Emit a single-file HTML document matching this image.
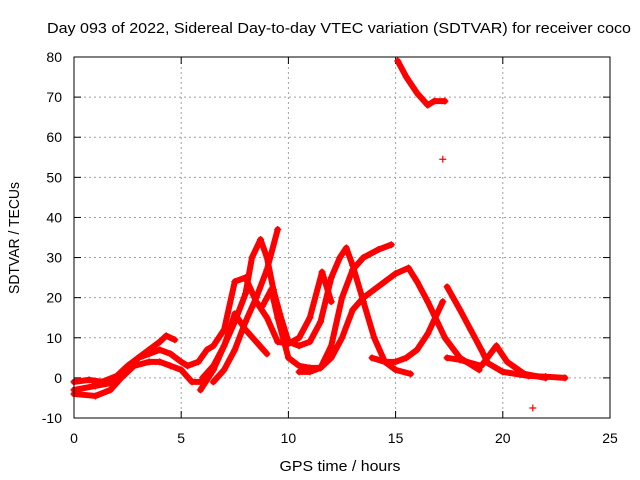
<!DOCTYPE html>
<html><head><meta charset="utf-8"><style>
body{margin:0;background:#fff}
svg{display:block;font-family:"Liberation Sans",sans-serif}
</style></head><body>
<svg id="chart" width="640" height="480" xmlns="http://www.w3.org/2000/svg">
<rect width="640" height="480" fill="#fff"/>
<text x="339" y="33" font-size="15" text-anchor="middle" textLength="584" lengthAdjust="spacingAndGlyphs">Day 093 of 2022, Sidereal Day-to-day VTEC variation (SDTVAR) for receiver coco</text>
<text x="340" y="471" font-size="15" text-anchor="middle" textLength="121" lengthAdjust="spacingAndGlyphs">GPS time / hours</text>
<text x="19" y="238" font-size="15" text-anchor="middle" textLength="112" lengthAdjust="spacingAndGlyphs" transform="rotate(-90 19 238)">SDTVAR / TECUs</text>
<g id="grid"></g><g id="ticks"></g><g id="marks"></g>
<rect x="74" y="57" width="536" height="361" fill="none" stroke="#000" stroke-width="1"/>
</svg>
<script>
const xTicks=[0,5,10,15,20,25];
const yTicks=[-10,0,10,20,30,40,50,60,70,80];
const trackA=[[0,-4],[1,-4.5],[1.7,-3],[2.2,0],[2.8,3],[3.5,4],[4,4],[4.5,3],[5,2],[5.5,-1],[6,-1],[6.2,1]];
const trackB=[[0,-1],[0.7,-0.5],[1.3,-1],[2,0.5],[2.5,3],[3,5],[3.5,6],[4,7],[4.5,6],[5,4],[5.3,3],[5.8,4],[6.2,7],[6.5,8],[7,12],[7.5,24],[8,25],[8.5,19],[9,15],[9.5,9],[10,8.5],[10.5,10],[11,15],[11.57,26.4],[12,19]];
const trackC=[[0,-3],[1,-2],[2,-1],[2.5,2],[3,5],[3.5,7],[4,9],[4.3,10.5],[4.7,9.5]];
const trackD=[[5.9,-3],[6.5,2],[7,8],[7.2,11],[7.5,16],[8,12],[8.5,9],[9,6]];
const trackE=[[6,0],[6.5,3],[7,8],[7.5,14],[8,21],[8.3,30],[8.7,34.5],[9,30],[9.3,22],[9.6,16],[10,9],[10.5,8],[11,9],[11.5,14],[12,25],[12.4,30],[12.7,32.4],[13,28],[13.5,19],[14,10],[14.5,4],[15,2],[15.7,1]];
const trackF=[[6.5,-1],[7,2],[7.5,7],[8,14],[8.5,20],[9,27],[9.5,37]];
const trackG=[[8.8,18],[9.2,22],[9.5,15],[10,5],[10.5,3],[11,2.5],[11.5,2.5],[12,5],[12.5,10],[13,17],[13.5,20],[14,22],[14.5,24],[15,26],[15.6,27.4],[16,24],[16.5,19],[17.3,10],[18,5],[18.9,2]];
const trackH=[[10.5,1.5],[11,1.5],[11.5,2.5],[12,8],[12.5,20],[13,27],[13.5,30],[14.2,32],[14.8,33.2]];
const trackI=[[13.9,5],[14.5,4],[15,4],[15.5,5],[16,7],[16.5,11],[17.2,19]];
const trackJ=[[17.4,22.7],[18,17],[18.5,12],[19,7],[19.3,3.7],[20,1.5],[21.2,0.5],[22,0.3],[22.9,0]];
const trackK=[[17.4,5],[18,4.5],[19,3],[19.7,8],[20.2,4],[21,1],[22,0]];
const trackL=[[15.1,79],[15.5,75],[16,71],[16.5,68],[16.8,69],[17.3,69]];
const outliers=[[17.2,54.5],[21.4,-7.5]];
const tracks=[trackA,trackB,trackC,trackD,trackE,trackF,trackG,trackH,trackI,trackJ,trackK,trackL];
const X=h=>74+h*536/25;
const Y=v=>418-(v+10)*361/90;
const NS='http://www.w3.org/2000/svg';
function mk(tag,attrs,parent){const e=document.createElementNS(NS,tag);for(const k in attrs)e.setAttribute(k,attrs[k]);parent.appendChild(e);return e;}
const grid=document.getElementById('grid'),ticks=document.getElementById('ticks'),marks=document.getElementById('marks');
xTicks.forEach(t=>{
 if(t>0&&t<25){const g=mk('line',{x1:X(t),x2:X(t),y1:57,y2:418,stroke:'#a0a0a0','stroke-dasharray':'2,3'},grid);
 
 }
 mk('line',{x1:X(t),x2:X(t),y1:418,y2:411,stroke:'#000'},ticks);
 mk('line',{x1:X(t),x2:X(t),y1:57,y2:64,stroke:'#000'},ticks);
 const l=mk('text',{x:X(t),y:443,'font-size':14,'text-anchor':'middle'},ticks);l.textContent=t;
 
 
});
yTicks.forEach(t=>{
 if(t>-10&&t<80){const g=mk('line',{x1:74,x2:610,y1:Y(t),y2:Y(t),stroke:'#a0a0a0','stroke-dasharray':'2,3'},grid);
 
 }
 mk('line',{x1:74,x2:81,y1:Y(t),y2:Y(t),stroke:'#000'},ticks);
 mk('line',{x1:610,x2:603,y1:Y(t),y2:Y(t),stroke:'#000'},ticks);
 const l=mk('text',{x:62,y:Y(t)+5,'font-size':14,'text-anchor':'end'},ticks);l.textContent=t;
 
 
});
function plus(h,v){const x=X(h),y=Y(v);
 const p=mk('path',{d:`M${x-3.5} ${y}H${x+3.5}M${x} ${y-3.5}V${y+3.5}`,stroke:'#f00','stroke-width':1.2},marks);
 
 }
tracks.forEach((tr,i)=>{
 const pl=mk('polyline',{points:tr.map(p=>X(p[0])+','+Y(p[1])).join(' '),fill:'none',stroke:'#f00','stroke-width':6,'stroke-linejoin':'round','stroke-linecap':'round'},marks);
 
 
 tr.forEach(p=>plus(p[0],p[1]));
});
outliers.forEach(p=>plus(p[0],p[1]));
</script>
</body></html>
